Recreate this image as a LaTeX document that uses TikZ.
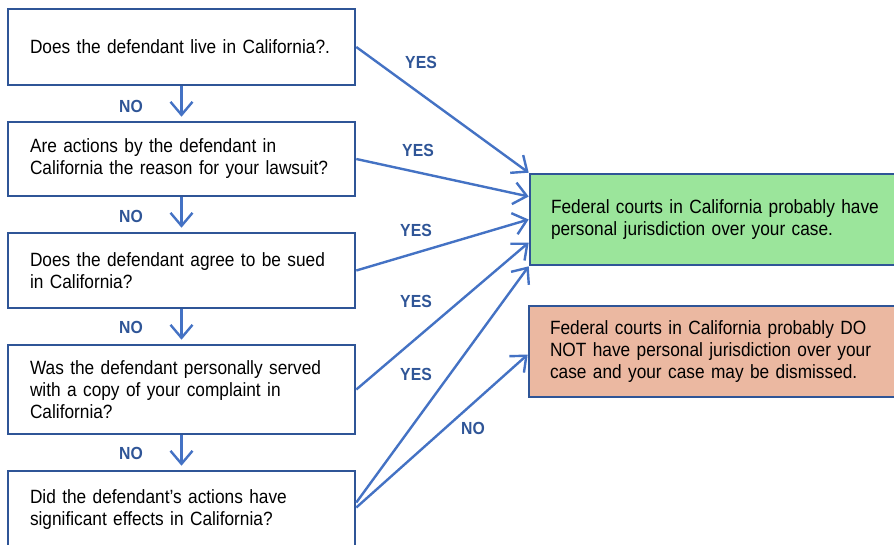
\documentclass[tikz,border=0pt]{standalone}
\usepackage{fontspec}
\setmainfont{Liberation Sans}[FakeStretch=0.9]
\usetikzlibrary{arrows.meta}
\hyphenpenalty=10000
\definecolor{boxblue}{RGB}{47,85,151}
\definecolor{lineblue}{RGB}{68,114,196}
\definecolor{yesgreen}{RGB}{155,229,155}
\definecolor{nosalmon}{RGB}{235,184,161}
\tikzset{
  question/.style={draw=boxblue, line width=2.6pt, text width=303pt, inner xsep=22pt,
    inner ysep=0pt, align=left, font=\fontsize{19.2}{22}\selectfont},
  answer/.style={question, text width=338pt, inner xsep=21pt},
  flow/.style={draw=lineblue, line width=2.4pt, ->},
  lbl/.style={text=boxblue, font=\fontsize{17.5}{20}\selectfont\bfseries}
}
\begin{document}
\begin{tikzpicture}[x=1pt, y=-1pt, >={Straight Barb[length=13pt,width=22pt]}]
  \clip (0,0) rectangle (894,544);
  \fill[white] (0,0) rectangle (894,544);
  % questions
  \node[question, minimum height=76pt] (q1) at (181.5,47) {Does the defendant live in California?.};
  \node[question, minimum height=74pt] (q2) at (181.5,159) {Are actions by the defendant in\\California the reason for your lawsuit?};
  \node[question, minimum height=75pt] (q3) at (181.5,270.5) {Does the defendant agree to be sued\\in California?};
  \node[question, minimum height=89pt] (q4) at (181.5,389.5) {Was the defendant personally served\\with a copy of your complaint in\\California?};
  \node[question, minimum height=77pt] (q5) at (181.5,509.5) {Did the defendant’s actions have\\significant effects in California?};
  % answers
  \node[answer, fill=yesgreen, minimum height=91pt] (yes) at (720,219.5) {Federal courts in California probably have\\personal jurisdiction over your case.};
  \node[answer, fill=nosalmon, minimum height=91pt] (no) at (719,351.5) {Federal courts in California probably DO\\NOT have personal jurisdiction over your\\case and your case may be dismissed.};
  % NO arrows down
  \draw[flow, shorten >=4pt] (q1) -- (q2);
  \draw[flow, shorten >=4pt] (q2) -- (q3);
  \draw[flow, shorten >=4pt] (q3) -- (q4);
  \draw[flow, shorten >=4pt] (q4) -- (q5);
  \node[lbl] (n1) at (131,106) {NO};
  \node[lbl] (n2) at (131,216) {NO};
  \node[lbl] (n3) at (131,327) {NO};
  \node[lbl] (n4) at (131,453) {NO};
  % YES arrows
  \draw[flow] (q1.east) -- (yes.north west);
  \draw[flow] (q2.east) -- ([yshift=23pt]yes.west);
  \draw[flow] (q3.east) -- (yes.west);
  \draw[flow] (q4.east) -- ([yshift=-23pt]yes.west);
  \draw[flow] ([yshift=7pt]q5.east) -- (yes.south west);
  \draw[flow] ([yshift=2pt]q5.east) -- ([yshift=-3pt]no.west);
  \node[lbl] (y1) at (421,62) {YES};
  \node[lbl] (y2) at (418,150) {YES};
  \node[lbl] (y3) at (416,230) {YES};
  \node[lbl] (y4) at (416,301) {YES};
  \node[lbl] (y5) at (416,374) {YES};
  \node[lbl] (n5) at (473,428) {NO};
\end{tikzpicture}
\end{document}
